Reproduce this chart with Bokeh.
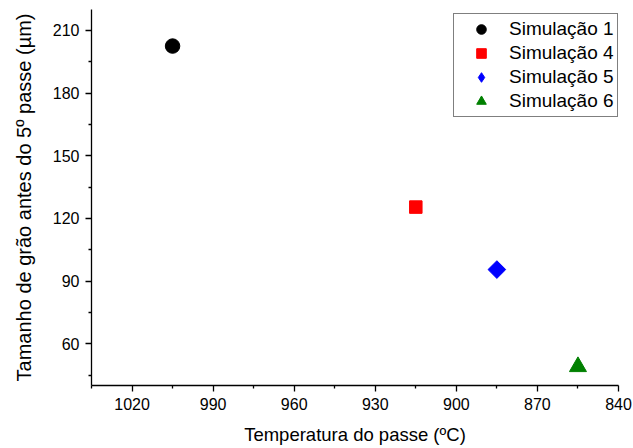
import math
from bokeh.plotting import figure
from bokeh.models import Range1d, FixedTicker, Legend, LegendItem
from bokeh.embed import file_html
from bokeh.resources import INLINE

# Data
names = ["Simulação 1", "Simulação 4", "Simulação 5", "Simulação 6"]
temps = [1005, 915, 885, 855]
grain = [202.5, 125.4, 95.5, 49.0]
colors = ["#000000", "#FF0000", "#0000FF", "#008000"]
markers = ["circle", "square", "square", "triangle"]
legend_markers = ["circle", "square", "diamond", "triangle"]
angles = [0.0, 0.0, math.pi / 4, 0.0]
sizes = [14.5, 12.5, 12.5, 17]

x_ticks = [1020, 990, 960, 930, 900, 870, 840]
x_minor = [1035, 1005, 975, 945, 915, 885, 855]
y_ticks = [60, 90, 120, 150, 180, 210]
y_minor = [45, 75, 105, 135, 165, 195]

FONT = "Liberation Sans"

p = figure(width=633, height=448, output_backend="svg", toolbar_location=None,
           x_range=Range1d(1035, 840), y_range=Range1d(40, 220),
           min_border_left=91, min_border_right=15, min_border_top=9, min_border_bottom=63)
p.outline_line_color = None
p.grid.visible = False
p.background_fill_color = "white"
p.border_fill_color = "white"

items = []
for n, x, y, c, m, lm, a, s in zip(names, temps, grain, colors, markers, legend_markers, angles, sizes):
    if lm != m:
        # legend proxy hidden beneath the rotated marker
        proxy = p.scatter([x], [y], marker=lm, size=s * 0.6, fill_color=c, line_color=c)
        r = p.scatter([x], [y], marker=m, size=s, angle=a, fill_color=c, line_color=c)
        items.append(LegendItem(label=n, renderers=[proxy]))
    else:
        r = p.scatter([x], [y], marker=m, size=s, angle=a, fill_color=c, line_color=c)
        items.append(LegendItem(label=n, renderers=[r]))

p.xaxis.ticker = FixedTicker(ticks=x_ticks, minor_ticks=x_minor)
p.yaxis.ticker = FixedTicker(ticks=y_ticks, minor_ticks=y_minor)
p.xaxis.axis_label = "Temperatura do passe (ºC)"
p.yaxis.axis_label = "Tamanho de grão antes do 5º passe (µm)"

for ax in (p.xaxis[0], p.yaxis[0]):
    ax.axis_line_color = "black"
    ax.axis_line_width = 1.3
    ax.major_tick_line_color = "black"
    ax.minor_tick_line_color = "black"
    ax.major_tick_line_width = 1.3
    ax.minor_tick_line_width = 1.3
    ax.major_tick_in = 0
    ax.major_tick_out = 6
    ax.minor_tick_in = 0
    ax.minor_tick_out = 3
    ax.major_label_text_font = FONT
    ax.major_label_text_font_size = "16px"
    ax.major_label_text_color = "black"
    ax.axis_label_text_font = FONT
    ax.axis_label_text_font_style = "normal"
    ax.axis_label_text_color = "black"

p.xaxis.axis_label_text_font_size = "18.5px"
p.yaxis.axis_label_text_font_size = "20px"
p.xaxis.major_label_standoff = 6
p.xaxis.axis_label_standoff = 11
p.yaxis.major_label_standoff = 6
p.yaxis.axis_label_standoff = 15

legend = Legend(items=items, location=(362, 268))
legend.label_text_font = FONT
legend.label_text_font_size = "19px"
legend.label_text_color = "black"
legend.border_line_color = "black"
legend.border_line_width = 1
legend.padding = 3
legend.spacing = 0
legend.glyph_width = 48
legend.glyph_height = 24
legend.label_height = 24
legend.label_standoff = 4
legend.margin = 0
legend.background_fill_alpha = 1
p.add_layout(legend)

open("out.html", "w").write(file_html(p, INLINE))
